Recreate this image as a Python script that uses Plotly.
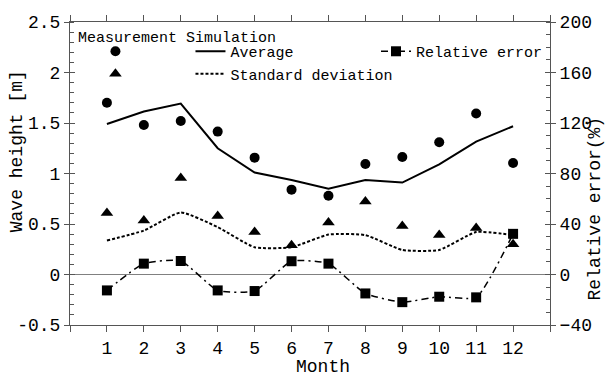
import plotly.graph_objects as go

months = list(range(1, 13))
meas_avg = [1.70, 1.48, 1.52, 1.415, 1.157, 0.84, 0.78, 1.094, 1.164, 1.31, 1.594, 1.104]
meas_std = [0.61, 0.534, 0.955, 0.58, 0.42, 0.29, 0.514, 0.723, 0.48, 0.39, 0.46, 0.30]
sim_avg = [1.49, 1.614, 1.693, 1.25, 1.01, 0.935, 0.85, 0.935, 0.91, 1.09, 1.316, 1.468]
sim_std = [0.336, 0.435, 0.614, 0.469, 0.27, 0.27, 0.395, 0.39, 0.243, 0.243, 0.42, 0.39]
rel_err = [-12.6, 8.6, 10.7, -12.6, -13.1, 10.5, 8.6, -15.0, -21.9, -17.6, -18.1, 32.2]

x_tickvals = list(range(0, 14))
x_ticktext = [""] + [str(m) for m in months] + [""]
y_tickvals = [-0.5, 0, 0.5, 1, 1.5, 2, 2.5]
y_ticktext = ["-0.5", "0", "0.5", "1", "1.5", "2", "2.5"]
y2_tickvals = [-40, 0, 40, 80, 120, 160, 200]

FONT = "Liberation Mono, Courier New, monospace"
AX = "#555555"

fig = go.Figure()
fig.add_trace(go.Scatter(x=months, y=meas_avg, mode="markers", name=" ",
                         marker=dict(symbol="circle", size=10, color="black"),
                         legend="legend"))
fig.add_trace(go.Scatter(x=months, y=meas_std, mode="markers", name=" ",
                         marker=dict(symbol="triangle-up", size=11, color="black"),
                         legend="legend"))
fig.add_trace(go.Scatter(x=months, y=sim_avg, mode="lines", name="Average",
                         line=dict(color="black", width=2), legend="legend2"))
fig.add_trace(go.Scatter(x=months, y=sim_std, mode="lines", name="Standard deviation",
                         line=dict(color="black", width=2, dash="3px,2px", shape="spline", smoothing=0.5),
                         legend="legend2"))
fig.add_trace(go.Scatter(x=months, y=rel_err, mode="lines+markers", name="Relative error",
                         yaxis="y2",
                         line=dict(color="black", width=1.5, dash="7px,4px,2px,4px", shape="spline", smoothing=0.5),
                         marker=dict(symbol="square", size=10, color="black"),
                         legend="legend3"))
# empty helper traces so the crossing-tick overlay axes get drawn
fig.add_trace(go.Scatter(x=[None], y=[None], yaxis="y3", showlegend=False, hoverinfo="skip"))
fig.add_trace(go.Scatter(x=[None], y=[None], yaxis="y4", showlegend=False, hoverinfo="skip"))

legend_common = dict(font=dict(family=FONT, size=15, color="black"), bgcolor="rgba(0,0,0,0)",
                     borderwidth=0, xanchor="left", yanchor="top", orientation="v",
                     tracegroupgap=0)

fig.update_layout(
    width=606, height=376,
    margin=dict(l=70, r=56, t=22, b=51),
    paper_bgcolor="white", plot_bgcolor="white",
    font=dict(family=FONT, size=18, color="black"),
    xaxis=dict(range=[0, 13], tickvals=x_tickvals, ticktext=x_ticktext,
               ticks="outside", ticklen=6, tickcolor=AX, showline=True, linecolor=AX,
               linewidth=1, mirror="ticks", showgrid=False, zeroline=False,
               tickfont=dict(size=18)),
    yaxis=dict(range=[-0.5, 2.5], tickvals=y_tickvals, ticktext=y_ticktext,
               ticks="outside", ticklen=5, tickcolor=AX, showline=True, linecolor=AX,
               showgrid=False, zeroline=True, zerolinecolor="#808080", zerolinewidth=1,
               minor=dict(dtick=0.1, ticks="inside", ticklen=4, tickcolor=AX, showgrid=False),
               tickfont=dict(size=18)),
    yaxis2=dict(range=[-40, 200], tickvals=y2_tickvals, overlaying="y", side="right",
                ticks="outside", ticklen=5, tickcolor=AX, showline=True, linecolor=AX,
                showgrid=False, zeroline=False,
                minor=dict(dtick=10, ticks="inside", ticklen=4, tickcolor=AX, showgrid=False),
                tickfont=dict(size=18)),
    yaxis3=dict(range=[-0.5, 2.5], tickvals=y_tickvals, overlaying="y", side="left",
                ticks="inside", ticklen=5, tickcolor=AX, showticklabels=False,
                showline=False, showgrid=False, zeroline=False),
    yaxis4=dict(range=[-40, 200], tickvals=y2_tickvals, overlaying="y", side="right",
                ticks="inside", ticklen=5, tickcolor=AX, showticklabels=False,
                showline=False, showgrid=False, zeroline=False),
    legend=dict(x=0.053, y=0.957, **legend_common),
    legend2=dict(x=0.251, y=0.957, **legend_common),
    legend3=dict(x=0.6375, y=0.957, **legend_common),
    showlegend=True,
    annotations=[
        dict(text="Measurement Simulation", x=0.012, y=0.947, xref="paper", yref="paper",
             xanchor="left", yanchor="middle", showarrow=False, font=dict(size=15)),
        dict(text="Wave height [m]", x=-0.110, y=0.574, xref="paper", yref="paper",
             xanchor="center", yanchor="middle", textangle=-90, showarrow=False, font=dict(size=18)),
        dict(text="Relative error(%)", x=1.094, y=0.385, xref="paper", yref="paper",
             xanchor="center", yanchor="middle", textangle=-90, showarrow=False, font=dict(size=18)),
        dict(text="Month", x=0.527, y=-0.138, xref="paper", yref="paper",
             xanchor="center", yanchor="middle", showarrow=False, font=dict(size=18)),
    ],
)

fig.write_html("out.html")
